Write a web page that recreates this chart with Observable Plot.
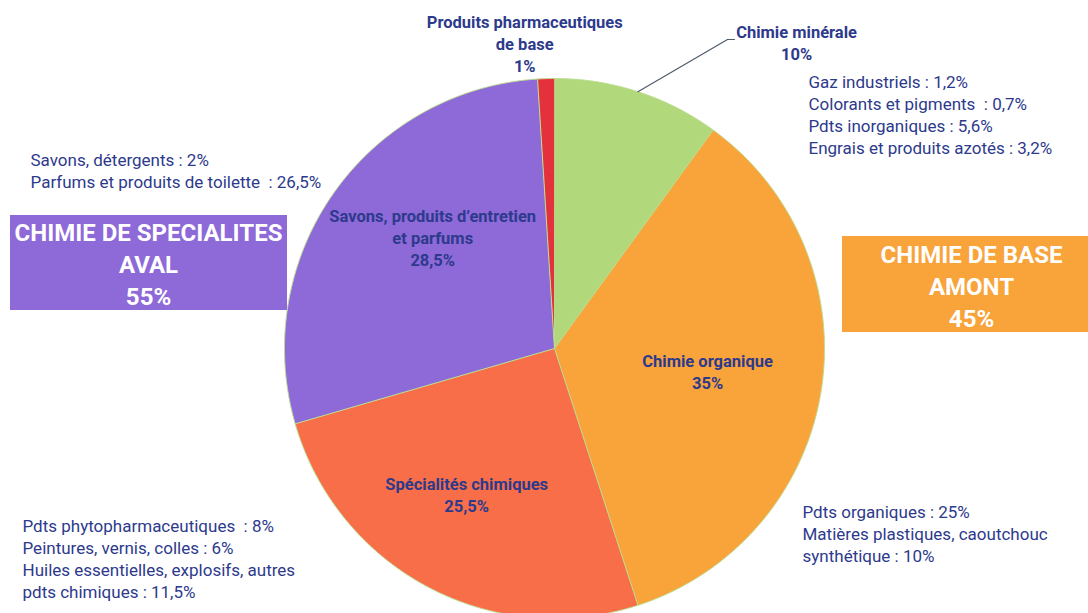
<!DOCTYPE html>
<html>
<head>
<meta charset="utf-8">
<script src="https://cdn.jsdelivr.net/npm/d3@7"></script>
<script src="https://cdn.jsdelivr.net/npm/@observablehq/plot@0.6"></script>
<style>
  html, body { margin: 0; padding: 0; background: #fff; }
  #chart svg { display: block; }
</style>
</head>
<body>
<div id="chart"></div>
<script>
// Segments of the chemical industry, clockwise from 12 o'clock
const segments = [
  "Chimie minérale",
  "Chimie organique",
  "Spécialités chimiques",
  "Savons, produits d’entretien\net parfums",
  "Produits pharmaceutiques\nde base"
];
const shares = [10, 35, 25.5, 28.5, 1];
const colors = ["#b1d87b", "#f9a33b", "#f76e48", "#8e69d8", "#e4323c"];

// Breakdown notes attached to each segment
const mineraleNotes = ["Gaz industriels : 1,2%", "Colorants et pigments  : 0,7%", "Pdts inorganiques : 5,6%", "Engrais et produits azotés : 3,2%"];
const organiqueNotes = ["Pdts organiques : 25%", "Matières plastiques, caoutchouc", "synthétique : 10%"];
const specialitesNotes = ["Pdts phytopharmaceutiques  : 8%", "Peintures, vernis, colles : 6%", "Huiles essentielles, explosifs, autres", "pdts chimiques : 11,5%"];
const savonsNotes = ["Savons, détergents : 2%", "Parfums et produits de toilette  : 26,5%"];

// Upstream / downstream groupings (indices into segments)
const groupNames = ["CHIMIE DE SPECIALITES\nAVAL", "CHIMIE DE BASE\nAMONT"];
const groupMembers = [[2, 3, 4], [0, 1]];

// ---- layout ----
const W = 1088, H = 613, CX = 554, CY = 348, R = 270;
const ink = "#2d3a8c";
const fmt = v => String(Math.round(v * 10) / 10).replace(".", ",") + "%";
const polar = (a, r) => [CX + r * Math.sin(a), CY - r * Math.cos(a)];
const deg = Math.PI / 180;

// label placement per segment: [radius factor, angle shift in degrees]
const labelAt = [[1.44, 20.5], [0.574, 0], [0.637, 2.8], [0.607, 6.9], [1.13, -3.8]];
// note blocks: [left x, first line y]
const noteBlocks = [
  [mineraleNotes, 808, 80],
  [organiqueNotes, 802, 510],
  [specialitesNotes, 22, 524],
  [savonsNotes, 30, 158]
];
// group boxes: [x1, x2, y1, y2, text x, text y]
const groupBoxes = [[10, 287, 215, 310, 148, 262], [842, 1100, 236, 332, 971, 284]];
const groupFill = [colors[3], colors[1]];

const slices = segments.map((name, i) => ({name, share: shares[i]}));
const arcs = d3.pie().sort(null).value(d => d.share)(slices);

// polygon outline of each slice
const outline = arcs.flatMap(a => {
  const n = Math.max(2, Math.ceil((a.endAngle - a.startAngle) / (0.25 * deg)));
  const pts = [{name: a.data.name, x: CX, y: CY}];
  for (let k = 0; k <= n; k++) {
    const t = a.startAngle + (a.endAngle - a.startAngle) * k / n;
    const [x, y] = polar(t, R);
    pts.push({name: a.data.name, x, y});
  }
  return pts;
});

const labels = arcs.map((a, i) => {
  const mid = (a.startAngle + a.endAngle) / 2 + labelAt[i][1] * deg;
  const [x, y] = polar(mid, R * labelAt[i][0]);
  return {x, y: y - 2, text: a.data.name + "\n" + fmt(a.data.share)};
});

// leader line from the mineral slice rim to its label
const mAngle = (arcs[0].startAngle + arcs[0].endAngle) / 2;
const [lx, ly] = polar(mAngle, R);
const leader = [{x: lx, y: ly}, {x: 727, y: 39}, {x: 734, y: 39}];

const notes = noteBlocks.map(([lines, x, y]) => ({x, y: y + (lines.length - 1) * 11, text: lines.join("\n")}));

const groups = groupNames.map((name, g) => {
  const total = d3.sum(groupMembers[g], i => shares[i]);
  const [x1, x2, y1, y2, tx, ty] = groupBoxes[g];
  return {x1, x2, y1, y2, tx, ty, fill: groupFill[g], text: name + "\n" + fmt(total)};
});

const chart = Plot.plot({
  width: W,
  height: H,
  margin: 0,
  x: {domain: [0, W], range: [0, W], axis: null},
  y: {domain: [0, H], range: [0, H], axis: null},
  color: {domain: segments, range: colors},
  style: {fontFamily: "Roboto, 'Open Sans', sans-serif", fontSize: "16px", background: "#fff"},
  marks: [
    Plot.line(outline, {x: "x", y: "y", z: "name", fill: "name", stroke: "#bcdd8e", strokeWidth: 1, curve: "linear-closed"}),
    Plot.line(leader, {x: "x", y: "y", stroke: "#4e5b6b", strokeWidth: 1.2}),
    Plot.text(labels, {x: "x", y: "y", text: "text", fill: ink, fontWeight: "bold", fontSize: 16.5, lineHeight: 22 / 16.5, lineAnchor: "middle"}),
    Plot.text(notes, {x: "x", y: "y", text: "text", fill: ink, fontSize: 17, textAnchor: "start", lineHeight: 22 / 17, lineAnchor: "middle"}),
    Plot.rect(groups, {x1: "x1", x2: "x2", y1: "y1", y2: "y2", fill: "fill"}),
    Plot.text(groups, {x: "tx", y: "ty", text: "text", fill: "white", fontWeight: "bold", fontSize: 24, lineHeight: 32 / 24, lineAnchor: "middle"})
  ]
});

document.getElementById("chart").appendChild(chart);
</script>
</body>
</html>
